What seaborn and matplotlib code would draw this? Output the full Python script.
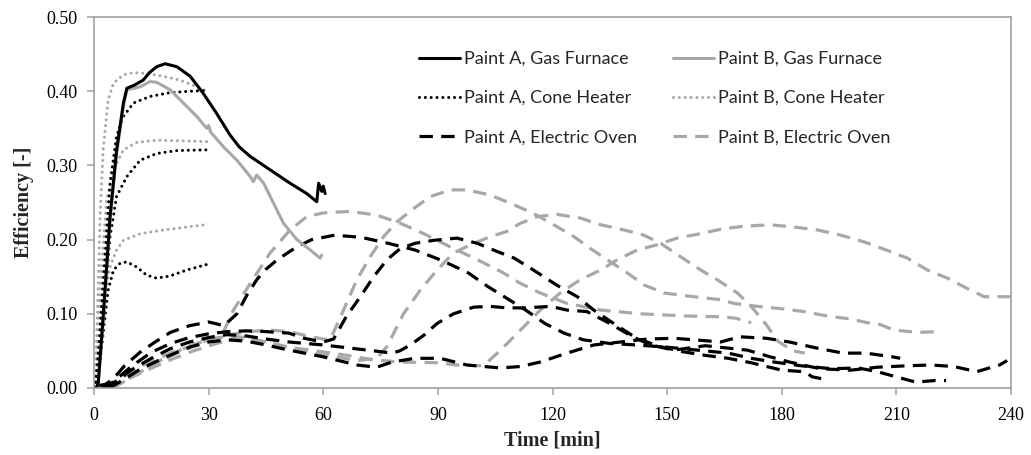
import numpy as np
import pandas as pd
import matplotlib
matplotlib.use("Agg")
import matplotlib.pyplot as plt
from matplotlib.ticker import FormatStrFormatter
import seaborn as sns

# ---- data (time in min, efficiency in -) ----

# Paint A, Gas Furnace
gfa_t = [0.5, 1.1, 2.4, 4.2, 5.9, 7.7, 8.6, 10.5, 12.9, 14.5, 16.4, 18.6, 21.7, 25.2,
         28.6, 32.1, 35.6, 38.0, 40.9, 46.1, 51.3, 55.7, 58.3, 58.8, 59.6, 60.0, 60.5]
gfa_e = [0.0, 0.006, 0.096, 0.231, 0.32, 0.384, 0.404, 0.408, 0.415, 0.425, 0.433, 0.437,
         0.433, 0.42, 0.397, 0.37, 0.341, 0.325, 0.312, 0.294, 0.276, 0.262, 0.251, 0.276,
         0.265, 0.272, 0.262]

# Paint B, Gas Furnace
gfb_t = [0.5, 1.1, 2.4, 4.2, 5.9, 7.7, 8.6, 10.5, 12.1, 14.7, 16.4, 19.9, 23.4, 26.9,
         29.5, 30.0, 30.5, 33.9, 37.4, 40.9, 41.7, 42.6, 44.4, 47.0, 49.6, 53.1, 56.6,
         59.2, 59.6]
gfb_e = [0.0, 0.005, 0.09, 0.225, 0.315, 0.38, 0.402, 0.404, 0.406, 0.413, 0.412, 0.402,
         0.384, 0.366, 0.35, 0.354, 0.345, 0.325, 0.307, 0.285, 0.278, 0.287, 0.276,
         0.249, 0.222, 0.2, 0.186, 0.175, 0.179]

# Paint A, Cone Heater (three runs)
cha1_t = [0.3, 1.2, 2.4, 4.2, 5.9, 7.7, 10.3, 14.7, 19.9, 25.2, 29.9]
cha1_e = [0.0, 0.05, 0.141, 0.276, 0.339, 0.366, 0.384, 0.393, 0.398, 0.4, 0.401]
cha2_t = [0.3, 1.2, 2.4, 4.2, 5.9, 8.6, 12.1, 16.4, 21.7, 29.9]
cha2_e = [0.0, 0.03, 0.096, 0.204, 0.258, 0.285, 0.307, 0.316, 0.32, 0.321]
cha3_t = [0.3, 1.2, 2.4, 3.7, 5.1, 6.8, 8.6, 11.2, 13.8, 16.4, 19.9, 24.3, 29.9]
cha3_e = [0.0, 0.02, 0.074, 0.132, 0.159, 0.168, 0.17, 0.163, 0.152, 0.148, 0.151,
          0.159, 0.167]

# Paint B, Cone Heater (three runs)
chb1_t = [0.3, 0.9, 1.6, 2.4, 3.7, 5.1, 7.7, 10.3, 13.8, 18.2, 22.5, 26.9, 29.5]
chb1_e = [0.0, 0.1, 0.231, 0.321, 0.388, 0.411, 0.422, 0.425, 0.424, 0.42, 0.415,
          0.406, 0.4]
chb2_t = [0.3, 1.0, 2.0, 3.3, 5.1, 7.7, 11.2, 16.4, 23.4, 29.9]
chb2_e = [0.0, 0.08, 0.163, 0.253, 0.294, 0.321, 0.331, 0.334, 0.333, 0.332]
chb3_t = [0.3, 1.2, 2.4, 4.2, 5.9, 7.7, 12.1, 18.2, 24.3, 29.1]
chb3_e = [0.0, 0.05, 0.119, 0.163, 0.186, 0.199, 0.208, 0.213, 0.217, 0.22]

# Paint A, Electric Oven (four runs)
eoa1_t = [1, 3, 5, 8, 12, 16, 20, 25, 30, 34, 37.4, 40, 42.6, 45, 48, 53, 57, 63, 70,
          77, 84, 91, 98, 103, 108, 113, 118, 123, 128, 135, 142, 150, 160, 166, 172,
          178, 185, 193, 200, 205, 210, 215, 220, 223]
eoa1_e = [0.003, 0.005, 0.012, 0.03, 0.048, 0.062, 0.075, 0.084, 0.089, 0.084, 0.1,
          0.125, 0.146, 0.16, 0.173, 0.19, 0.2, 0.206, 0.203, 0.195, 0.186, 0.172,
          0.155, 0.137, 0.121, 0.105, 0.087, 0.074, 0.065, 0.06, 0.058, 0.055, 0.05,
          0.047, 0.04, 0.035, 0.03, 0.026, 0.027, 0.022, 0.015, 0.008, 0.01, 0.01]
eoa2_t = [2, 5, 10, 15, 20, 25, 30, 35, 40, 45, 51, 55, 60, 62.7, 66, 69.7, 73.2, 76.7,
          80.2, 84, 88.9, 95, 100.3, 105.5, 110, 115, 121, 126.5, 130.8, 136, 142, 148,
          154, 160, 166, 172, 180, 186, 188, 192]
eoa2_e = [0.0, 0.008, 0.03, 0.048, 0.06, 0.068, 0.073, 0.076, 0.077, 0.076, 0.074,
          0.067, 0.062, 0.066, 0.096, 0.123, 0.15, 0.173, 0.188, 0.195, 0.199, 0.202,
          0.195, 0.184, 0.175, 0.159, 0.139, 0.123, 0.105, 0.087, 0.067, 0.056, 0.049,
          0.044, 0.04, 0.034, 0.024, 0.022, 0.015, 0.011]
eoa3_t = [3, 6, 10, 15, 20, 25, 30, 35, 40, 45, 51, 60, 65, 70, 75, 78, 80, 82.8, 86.3,
          89.8, 94.1, 99.4, 103.7, 108, 113, 119.5, 123.8, 129, 135, 141, 145.7, 151.7,
          160, 171, 177, 182, 190, 198, 205, 213, 219, 225, 231, 237, 239]
eoa3_e = [0.0, 0.01, 0.025, 0.04, 0.053, 0.062, 0.068, 0.072, 0.07, 0.066, 0.062,
          0.058, 0.055, 0.052, 0.049, 0.047, 0.05, 0.058, 0.071, 0.087, 0.1, 0.109, 0.11,
          0.108, 0.108, 0.11, 0.105, 0.103, 0.087, 0.069, 0.058, 0.051, 0.057, 0.051,
          0.042, 0.035, 0.026, 0.024, 0.028, 0.03, 0.031, 0.029, 0.022, 0.031, 0.037]
eoa4_t = [4, 8, 12, 18, 25, 30, 35, 40, 45, 51, 60, 68.8, 74, 78, 84, 90.6, 97.6, 106.4,
          111.6, 116.8, 123.8, 130.8, 137.8, 144.8, 151.8, 157, 164, 169, 176, 182, 189,
          196, 202, 209, 211]
eoa4_e = [0.0, 0.012, 0.025, 0.04, 0.055, 0.062, 0.065, 0.063, 0.058, 0.051, 0.042,
          0.031, 0.028, 0.035, 0.04, 0.04, 0.031, 0.027, 0.029, 0.035, 0.047, 0.058,
          0.062, 0.066, 0.067, 0.065, 0.062, 0.069, 0.067, 0.062, 0.054, 0.047, 0.047,
          0.042, 0.04]

# Paint B, Electric Oven (four runs)
eob1_t = [3, 5, 12, 20.8, 27.8, 33.9, 36.5, 40.9, 46.1, 51.3, 55.7, 60, 67, 74, 80.2,
          86.3, 93.3, 100.3, 107.2, 111.6, 116.8, 123.8, 132.6, 143, 155.3, 164, 168, 172]
eob1_e = [0.0, 0.006, 0.029, 0.049, 0.06, 0.076, 0.105, 0.141, 0.182, 0.213, 0.231,
          0.236, 0.238, 0.233, 0.222, 0.208, 0.19, 0.173, 0.155, 0.141, 0.128, 0.114,
          0.105, 0.1, 0.097, 0.096, 0.094, 0.088]
eob2_t = [4, 8, 15, 22, 28, 34, 40, 46, 51, 56, 60, 61.8, 65.3, 68.8, 72.3, 75.8, 79.3,
          83.7, 88, 93.3, 97.6, 103.7, 109, 115.1, 120.3, 125.6, 129.9, 134.3, 139.6,
          143.9, 149.2, 155.3, 160.5, 164, 167.5, 173.6, 179.7, 185.8, 191.9, 198, 202.4,
          205, 209.4, 215.5, 221.6]
eob2_e = [0.0, 0.01, 0.03, 0.048, 0.06, 0.07, 0.076, 0.078, 0.076, 0.07, 0.066, 0.065,
          0.105, 0.146, 0.177, 0.204, 0.224, 0.242, 0.258, 0.267, 0.267, 0.26, 0.249,
          0.235, 0.22, 0.204, 0.188, 0.173, 0.155, 0.139, 0.128, 0.124, 0.121, 0.119,
          0.114, 0.11, 0.107, 0.103, 0.097, 0.093, 0.088, 0.087, 0.078, 0.075, 0.076]
eob3_t = [5, 10, 15, 20, 25, 30, 35, 40, 45, 51, 58, 65, 73, 80, 90, 95, 101, 103, 106.4,
          111.6, 116.8, 122, 127.3, 132.6, 137, 142.2, 147.4, 152.6, 158.8, 164, 170,
          177, 183, 189.3, 195.4, 201.5, 206.8, 212.9, 218.1, 223.4, 228.6, 233, 240]
eob3_e = [0.0, 0.015, 0.03, 0.045, 0.057, 0.065, 0.07, 0.068, 0.062, 0.055, 0.05, 0.045,
          0.038, 0.035, 0.034, 0.031, 0.03, 0.035, 0.051, 0.078, 0.105, 0.128, 0.146,
          0.159, 0.173, 0.186, 0.193, 0.202, 0.208, 0.214, 0.218, 0.22, 0.217, 0.213,
          0.206, 0.197, 0.187, 0.175, 0.159, 0.148, 0.134, 0.123, 0.123]
eob4_t = [4, 8, 13, 20, 26, 32, 37, 42, 48, 55, 62, 69, 74, 76.7, 81, 85.4, 89.8, 94.1,
          98.5, 103.7, 108.1, 111.6, 116, 121.2, 127.3, 132.6, 138.7, 143.9, 148.3,
          153.5, 158.8, 163.1, 168.4, 172, 176, 179, 183, 186]
eob4_e = [0.0, 0.01, 0.022, 0.038, 0.05, 0.06, 0.066, 0.065, 0.058, 0.05, 0.043, 0.037,
          0.04, 0.056, 0.1, 0.132, 0.159, 0.182, 0.193, 0.204, 0.211, 0.222, 0.231,
          0.234, 0.229, 0.22, 0.213, 0.206, 0.195, 0.177, 0.159, 0.146, 0.128, 0.11,
          0.085, 0.063, 0.05, 0.047]

labels = ["Paint A, Gas Furnace", "Paint A, Cone Heater", "Paint A, Electric Oven",
          "Paint B, Gas Furnace", "Paint B, Cone Heater", "Paint B, Electric Oven"]

runs = {
    "Paint A, Gas Furnace": [(gfa_t, gfa_e)],
    "Paint A, Cone Heater": [(cha1_t, cha1_e), (cha2_t, cha2_e), (cha3_t, cha3_e)],
    "Paint A, Electric Oven": [(eoa1_t, eoa1_e), (eoa2_t, eoa2_e), (eoa3_t, eoa3_e),
                               (eoa4_t, eoa4_e)],
    "Paint B, Gas Furnace": [(gfb_t, gfb_e)],
    "Paint B, Cone Heater": [(chb1_t, chb1_e), (chb2_t, chb2_e), (chb3_t, chb3_e)],
    "Paint B, Electric Oven": [(eob1_t, eob1_e), (eob2_t, eob2_e), (eob3_t, eob3_e),
                               (eob4_t, eob4_e)],
}

BLACK = "#000000"
GREY = "#a8a8a8"
styles = {
    "Paint A, Gas Furnace": dict(color=BLACK, linestyle="-", lw=2.2),
    "Paint A, Cone Heater": dict(color=BLACK, linestyle=(0, (0.01, 1.9)), lw=2.2,
                                 dash_capstyle="round"),
    "Paint A, Electric Oven": dict(color=BLACK, linestyle=(0, (4.2, 2.6)), lw=2.3),
    "Paint B, Gas Furnace": dict(color=GREY, linestyle="-", lw=2.2),
    "Paint B, Cone Heater": dict(color=GREY, linestyle=(0, (0.01, 1.9)), lw=2.2,
                                 dash_capstyle="round"),
    "Paint B, Electric Oven": dict(color=GREY, linestyle=(0, (4.2, 2.6)), lw=2.3),
}

sns.set_style("ticks")
plt.rcParams["font.family"] = ["Liberation Serif", "DejaVu Serif"]

fig = plt.figure(figsize=(10.31, 4.55), dpi=100)
ax = fig.add_axes([94 / 1031, 67 / 455, 917 / 1031, 371 / 455])

# draw electric oven first, so the furnace / cone curves sit on top
order = ["Paint B, Electric Oven", "Paint A, Electric Oven",
         "Paint B, Cone Heater", "Paint A, Cone Heater",
         "Paint B, Gas Furnace", "Paint A, Gas Furnace"]
for name in order:
    for i, (t, e) in enumerate(runs[name]):
        df = pd.DataFrame({"time": t, "eff": e})
        sns.lineplot(data=df, x="time", y="eff", ax=ax, estimator=None, sort=False,
                     label=name if i == 0 else None, legend=False, **styles[name])

ax.set_xlim(0, 240)
ax.set_ylim(0, 0.5)
ax.set_xticks(np.arange(0, 241, 30))
ax.set_yticks(np.arange(0, 0.51, 0.1))
ax.yaxis.set_major_formatter(FormatStrFormatter("%.2f"))

for sp in ax.spines.values():
    sp.set_visible(True)
    sp.set_color("#a0a0a0")
    sp.set_linewidth(1.2)
ax.tick_params(axis="both", direction="out", length=5, width=1.1, color="#a0a0a0",
               labelsize=13, labelcolor="black")
ax.tick_params(axis="x", pad=9)
ax.tick_params(axis="y", pad=7)

ax.set_xlabel("Time [min]", fontsize=14.5, fontweight="bold", labelpad=4)
ax.set_ylabel("Efficiency [-]", fontsize=14.5, fontweight="bold", labelpad=9)

handles, lbls = ax.get_legend_handles_labels()
hmap = dict(zip(lbls, handles))
leg = ax.legend([hmap[l] for l in labels], labels, ncol=2, frameon=False,
                loc="upper left", bbox_to_anchor=(0.346, 0.928),
                prop={"family": ["Lato", "DejaVu Sans"], "size": 13},
                handlelength=2.3, handletextpad=0.2, labelspacing=1.28,
                columnspacing=2.0, borderaxespad=0)

fig.savefig("out.png", dpi=100, facecolor="white")
